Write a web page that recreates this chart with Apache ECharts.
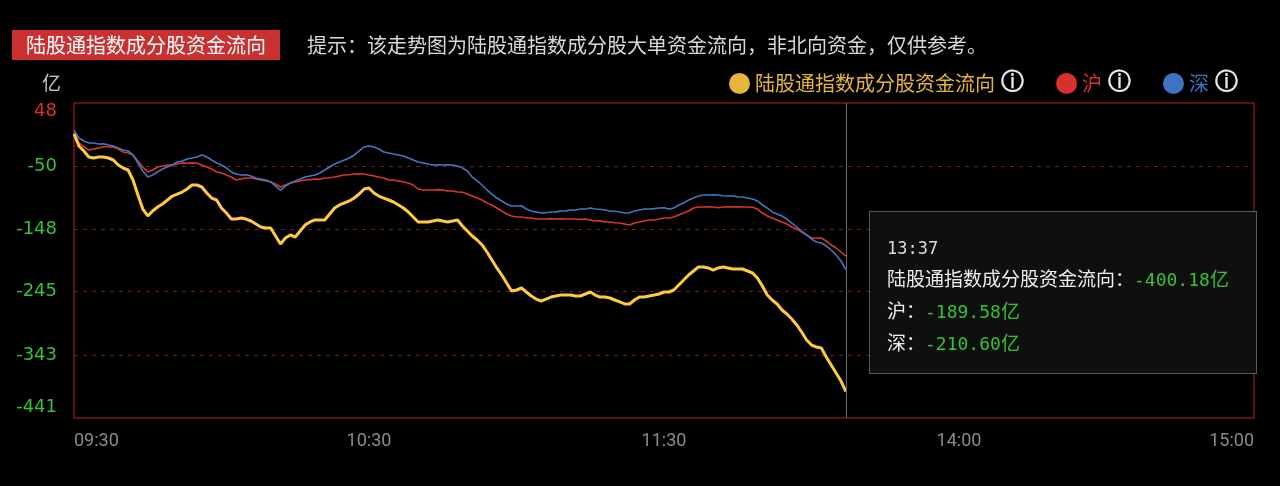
<!DOCTYPE html>
<html>
<head>
<meta charset="utf-8">
<script src="https://cdn.jsdelivr.net/npm/echarts@6/dist/echarts.min.js"></script>
<style>
  html, body { margin: 0; padding: 0; background: #000; }
  #flowChart { width: 1280px; height: 486px; }
</style>
</head>
<body>
<div id="flowChart"></div>
<script>
// 交易时间 09:30-11:30, 13:01-15:00
const times = [];
function pad(n) { return (n < 10 ? '0' : '') + n; }
for (let m = 9 * 60 + 30; m <= 11 * 60 + 30; m++) times.push(pad(Math.floor(m / 60)) + ':' + pad(m % 60));
for (let m = 13 * 60 + 1; m <= 15 * 60; m++) times.push(pad(Math.floor(m / 60)) + ':' + pad(m % 60));

const xTickLabels = ['09:30', '10:30', '11:30', '14:00', '15:00'];
const yTicks = [48, -50, -148, -245, -343, -441];

// 陆股通指数成分股资金流向 (亿)
const totalFlow = [
  0, -18.8, -26.5, -35.8, -37.4, -35.8, -35.8, -37.4, -40.5, -48.2,
  -52.9, -56.0, -71.5, -94.8, -116.6, -127.4, -119.7, -113.4, -108.8, -102.6,
  -96.4, -93.3, -90.2, -85.5, -79.3, -79.3, -82.4, -91.7, -99.5, -102.6,
  -115.0, -122.8, -132.1, -132.1, -130.5, -132.1, -135.2, -139.8, -144.5, -146.1,
  -146.1, -158.5, -170.9, -161.6, -156.9, -160.0, -150.7, -141.4, -136.7, -133.6,
  -133.6, -133.6, -124.3, -115.0, -110.3, -107.2, -104.1, -99.5, -93.3, -85.5,
  -84.0, -91.7, -96.4, -99.5, -102.6, -105.7, -110.3, -115.0, -121.2, -129.0,
  -136.7, -136.7, -136.7, -135.2, -133.6, -135.2, -136.7, -135.2, -133.6, -142.9,
  -150.7, -158.5, -164.7, -172.4, -183.3, -195.7, -208.1, -219.0, -231.4, -243.9,
  -242.3, -239.2, -245.4, -251.6, -256.3, -259.4, -256.3, -253.2, -251.6, -250.1,
  -250.1, -250.1, -251.6, -251.6, -248.5, -245.4, -250.1, -253.2, -253.2, -254.7,
  -257.8, -260.9, -264.0, -264.0, -257.8, -253.2, -253.2, -251.6, -250.1, -248.5,
  -245.4, -245.4, -242.3, -234.5, -226.8, -219.0, -212.8, -206.6, -206.6, -208.1,
  -211.3, -208.1, -206.6, -208.1, -209.7, -209.7, -209.7, -212.8, -215.9, -223.7,
  -236.1, -250.1, -257.8, -264.0, -273.3, -279.6, -287.3, -296.6, -307.5, -319.9,
  -327.7, -330.8, -332.3, -346.3, -358.7, -371.1, -383.6, -400.18
];
// 沪
const shFlow = [
  1, -14, -20, -25, -23.5, -22, -20, -20, -20.5, -23.5,
  -28, -29.7, -32.7, -42, -51.4, -59, -56, -51.4, -49.8, -48.2,
  -48, -46.6, -45, -45.5, -45, -45.6, -48.2, -51.4, -54.5, -59,
  -60.7, -63.8, -66.9, -71.5, -70, -68.4, -68.5, -70, -71.5, -73,
  -74.6, -77.8, -82.4, -79.3, -76.2, -74.6, -73, -71.5, -71, -70,
  -70.5, -68.4, -68, -66.9, -65.3, -63.8, -63.5, -62.2, -62, -62.2,
  -63.8, -65.3, -66.9, -68.4, -71.5, -71.5, -73, -74.6, -76.2, -79.3,
  -85.5, -87.1, -87, -87.1, -86.5, -87.1, -88.6, -88.6, -90.2, -90.5,
  -93.3, -96.4, -99.5, -102.6, -107.2, -110.3, -115, -119.7, -124.3, -127.4,
  -129, -129, -130.5, -130.5, -132.1, -132, -132.1, -131.5, -132, -131.7,
  -132, -132.1, -132, -132.5, -132.1, -133.6, -135.2, -135, -136.7, -136.7,
  -138, -138.3, -139.8, -141.4, -138.3, -136.7, -135.2, -133.6, -133.6, -132.1,
  -130.5, -130.5, -129, -125.9, -122.8, -119.7, -115, -113.4, -113.4, -113,
  -113.4, -114.5, -113.4, -113, -113.4, -113, -113.4, -113.4, -113.8, -116.6,
  -122.8, -127.4, -130.5, -133.6, -136.7, -139.8, -144.5, -147.6, -152.3, -156.9,
  -161.6, -161.6, -161.6, -166.2, -172.4, -177.1, -183.3, -189.58
];
// 深
const szFlow = [
  6, -6.3, -11, -14.1, -14, -15.6, -15.5, -17.2, -18.8, -21.9,
  -25, -26.5, -32.7, -45.1, -57.6, -66.9, -63.8, -59.1, -54.5, -51.4,
  -48.2, -43.6, -42, -38.9, -37.4, -35.8, -32.7, -35.8, -40.5, -45.1,
  -48.2, -52.9, -59.1, -62.2, -63.8, -63.5, -65.3, -68.4, -70, -71.5,
  -74.6, -80.9, -87.1, -80.9, -76.2, -73, -70, -66.9, -65.3, -63.8,
  -60.7, -56, -51.4, -46.7, -43.6, -40.5, -37.4, -32.7, -26.5, -20.3,
  -18.8, -20.3, -23.4, -28.1, -29.6, -31.2, -32.7, -34.3, -37.4, -40.5,
  -43.6, -45.1, -46.7, -48.2, -48, -48.2, -47.8, -48.2, -49.8, -52.9,
  -57.6, -66.9, -73, -79.3, -87.1, -93.3, -99.5, -104.1, -108.8, -111.9,
  -111.9, -111.5, -116.6, -119.7, -121.2, -122.8, -122.5, -121.2, -121, -119.7,
  -119.5, -118.1, -118, -116.6, -116.6, -115, -116.6, -117, -118.1, -119.7,
  -120, -121.2, -122.8, -122.5, -119.7, -118.1, -116.6, -116.6, -116, -115,
  -114.5, -116.6, -115, -110.3, -107.2, -102.6, -99.5, -96.4, -94.8, -94.8,
  -94.5, -94.8, -96, -96.4, -96.4, -97.5, -97.9, -99.5, -101, -104.1,
  -110.3, -115, -121.2, -124.3, -127.4, -132.1, -138.3, -144.5, -150.7, -156.9,
  -163.1, -167.8, -169.3, -174, -180.2, -188, -197.3, -210.6
];

const cjk = '"Noto Sans CJK SC", sans-serif';
const YELLOW = '#e6b63a', RED = '#d8302b', BLUE = '#3d74c4', GREEN = '#36c236';

let myChart = echarts.init(document.getElementById('flowChart'));
myChart.setOption({
  backgroundColor: '#000',
  animation: false,
  textStyle: { fontFamily: cjk },
  graphic: [
    { type: 'rect', left: 12, top: 30, shape: { width: 268, height: 30 }, style: { fill: '#c93030' } },
    { type: 'text', x: 146, y: 45, style: { text: '陆股通指数成分股资金流向', fill: '#fff', font: '20px ' + cjk, align: 'center', verticalAlign: 'middle' } },
    { type: 'text', x: 307, y: 45, style: { text: '提示：该走势图为陆股通指数成分股大单资金流向，非北向资金，仅供参考。', fill: '#d8d8d8', font: '20px ' + cjk, verticalAlign: 'middle' } },
    { type: 'text', x: 42, y: 83, style: { text: '亿', fill: '#c8c8c8', font: '19px ' + cjk, verticalAlign: 'middle' } }
  ],
  legend: {
    right: 37,
    top: 67,
    icon: 'circle',
    itemWidth: 21,
    itemHeight: 21,
    itemGap: 32,
    data: ['陆股通指数成分股资金流向', '沪', '深'],
    formatter: function (name) {
      const key = name === '沪' ? 'r' : (name === '深' ? 'b' : 'y');
      return '{' + key + '|' + name + '}{i|ⓘ}';
    },
    textStyle: {
      rich: {
        y: { color: YELLOW, fontSize: 20, fontFamily: cjk },
        r: { color: RED, fontSize: 20, fontFamily: cjk },
        b: { color: BLUE, fontSize: 20, fontFamily: cjk },
        i: { color: '#e8e8e8', fontSize: 23, fontFamily: 'DejaVu Sans', fontWeight: 'bold', padding: [0, 0, 0, 6] }
      }
    }
  },
  grid: {
    left: 74, right: 26, top: 103, bottom: 68,
    show: true,
    borderColor: '#7c1616',
    borderWidth: 1.5,
    backgroundColor: 'transparent'
  },
  tooltip: {
    trigger: 'axis',
    triggerOn: 'none',
    alwaysShowContent: true,
    transitionDuration: 0,
    position: [869, 211],
    backgroundColor: 'rgba(16,16,16,0.95)',
    borderColor: '#5a5a5a',
    borderWidth: 1,
    padding: [21, 17],
    extraCssText: 'box-sizing:border-box;width:388px;height:163px;box-shadow:none;border-radius:0;',
    axisPointer: { type: 'line', lineStyle: { color: '#6a6a6a', width: 1, type: 'solid' }, label: { show: false } },
    formatter: function (params) {
      const num = 'font-family:\'DejaVu Sans Mono\',monospace;font-size:18px;color:' + GREEN;
      let html = '<div style="font-family:\'DejaVu Sans Mono\',monospace;font-size:17px;color:#ddd;line-height:30px;">' + params[0].axisValue + '</div>';
      params.forEach(function (p) {
        html += '<div style="font-family:' + cjk.replace(/"/g, '\'') + ';font-size:19px;color:#eee;line-height:30px;white-space:nowrap;">' +
          p.seriesName + '：<span style="' + num + '">' + p.value.toFixed(2) + '</span><span style="color:' + GREEN + ';font-size:19px;">亿</span></div>';
      });
      return html;
    }
  },
  xAxis: {
    type: 'category',
    boundaryGap: false,
    data: times,
    axisLine: { show: false },
    axisTick: { show: false },
    splitLine: { show: false },
    axisLabel: {
      color: '#8a8a8a',
      fontSize: 18,
      fontFamily: 'Liberation Sans Narrow, Roboto, sans-serif',
      margin: 14,
      showMinLabel: true,
      showMaxLabel: true,
      alignMinLabel: 'left',
      alignMaxLabel: 'right',
      interval: function (idx, val) { return xTickLabels.indexOf(val) >= 0; }
    }
  },
  yAxis: {
    type: 'value',
    min: -441,
    max: 48,
    axisLine: { show: false },
    axisTick: { show: false, customValues: yTicks.slice(1, 5) },
    splitLine: { show: true, lineStyle: { color: '#731c1c', type: [4, 5], width: 1 } },
    axisLabel: {
      customValues: yTicks,
      margin: 17,
      fontSize: 18,
      fontFamily: 'DejaVu Sans',
      formatter: function (v) {
        const val = Math.round(v);
        if (val === yTicks[0]) return '{top|' + val + '}';
        if (val === yTicks[yTicks.length - 1]) return '{bot|' + val + '}';
        return '{' + (val >= 0 ? 'up' : 'dn') + '|' + val + '}';
      },
      rich: {
        up: { color: RED, fontSize: 18 },
        dn: { color: GREEN, fontSize: 18 },
        top: { color: RED, fontSize: 18, padding: [16, 0, 0, 0] },
        bot: { color: GREEN, fontSize: 18, padding: [0, 0, 22, 0] }
      }
    }
  },
  series: [
    { name: '陆股通指数成分股资金流向', type: 'line', data: totalFlow, symbol: 'none', itemStyle: { color: YELLOW }, lineStyle: { color: '#e8b838', width: 3 }, z: 4 },
    { name: '沪', type: 'line', data: shFlow, symbol: 'none', itemStyle: { color: RED }, lineStyle: { color: '#c8302b', width: 1.6 }, z: 3 },
    { name: '深', type: 'line', data: szFlow, symbol: 'none', itemStyle: { color: BLUE }, lineStyle: { color: '#3e6cae', width: 1.6 }, z: 3 }
  ]
});
myChart.dispatchAction({ type: 'showTip', seriesIndex: 0, dataIndex: totalFlow.length - 1 });
</script>
</body>
</html>
